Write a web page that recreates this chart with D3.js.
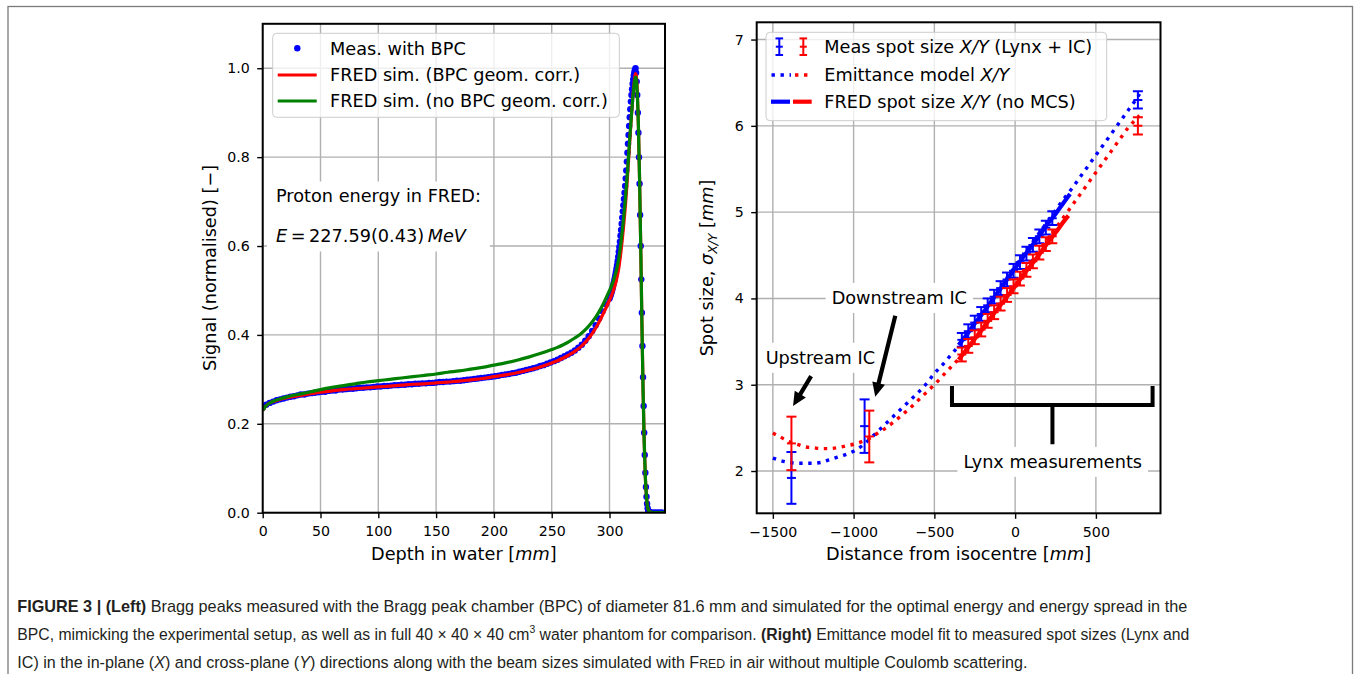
<!DOCTYPE html>
<html><head><meta charset="utf-8">
<script src="https://cdn.jsdelivr.net/npm/d3@7"></script>
<style>
html,body{margin:0;padding:0;background:#fff;}
svg{display:block;}
</style></head>
<body><svg id="fig" width="1354" height="674"></svg>
<script>
// ================= LEFT PANEL DATA (Bragg peak) =================
const bpcDepth = [0,3,6,9,12,15,18,21,24,27,30,33,36,39,42,45,48,51,54,57,60,63,66,69,72,75,78,81,84,87,90,93,96,99,102,105,108,111,114,117,120,123,126,129,132,135,138,141,144,147,150,153,156,159,162,165,168,171,174,177,180,183,186,189,192,195,198,201,204,207,210,213,216,219,222,225,228,231,234,237,240,243,246,249,252,255,258,261,264,267,270,273,276,279,282,285,288,291,294,297,
300,300.5,301,301.5,302,302.5,303,303.5,304,304.5,305,305.5,306,306.5,307,307.5,308,308.5,309,309.5,310,310.5,311,311.5,312,312.5,313,313.5,314,314.5,315,315.5,316,316.5,317,317.5,318,318.5,319,319.5,320,320.5,321,321.5,322,322.5,323,323.5,324,324.5,325,325.5,326,326.5,327,327.5,328,328.5,329,329.5,330,330.5,331,331.5,332,332.5,333,333.5,334,334.5,335,335.5,336,
337,338,339,340,341,342,343,344,345,346];
const bpcSignal = [0.236,0.243,0.247,0.250,0.253,0.255,0.257,0.259,0.261,0.262,
0.264,0.266,0.266,0.268,0.269,0.270,0.271,0.272,0.272,0.274,
0.275,0.275,0.277,0.277,0.278,0.279,0.279,0.280,0.281,0.281,
0.282,0.282,0.283,0.284,0.284,0.285,0.285,0.286,0.287,0.287,
0.288,0.288,0.289,0.289,0.290,0.290,0.291,0.291,0.292,0.292,
0.293,0.294,0.294,0.295,0.295,0.296,0.297,0.297,0.298,0.299,
0.300,0.301,0.302,0.303,0.304,0.305,0.306,0.307,0.308,0.310,
0.311,0.312,0.314,0.315,0.317,0.319,0.321,0.323,0.325,0.327,
0.330,0.332,0.335,0.338,0.341,0.344,0.348,0.352,0.356,0.360,
0.365,0.371,0.378,0.387,0.397,0.409,0.422,0.437,0.453,0.469,
0.482,0.486,0.490,0.494,0.498,0.503,0.509,0.515,0.521,0.527,
0.534,0.541,0.549,0.557,0.566,0.576,0.587,0.598,0.610,0.623,
0.636,0.650,0.664,0.678,0.692,0.706,0.720,0.735,0.752,0.770,
0.790,0.810,0.830,0.850,0.870,0.890,0.908,0.925,0.940,0.953,
0.965,0.975,0.984,0.991,0.996,1.000,0.990,0.970,0.940,0.900,
0.855,0.800,0.740,0.670,0.600,0.525,0.450,0.375,0.305,0.240,
0.180,0.130,0.090,0.058,0.036,0.020,0.010,0.005,0.002,0.001,
0.000,0.000,0.000,
0,0,0,0,0,0,0,0,0,0];

const simDepth = [0,2,5,10,15,20,30,40,50,60,70,80,90,100,110,120,130,140,150,160,170,180,190,200,210,220,230,240,250,255,260,265,270,275,280,285,290,295,300,302,304,306,308,310,312,314,315,316,317,318,319,320,321,322,322.5,323,324,325,326,327,328,329,330,331,332,333,334,336,340,348];
const simCorrSignal = [0.230,0.238,0.245,0.251,0.255,0.258,0.263,0.267,0.271,0.274,0.277,0.279,0.281,0.283,0.285,0.287,0.289,0.290,0.292,0.294,0.296,0.299,0.302,0.306,0.310,0.315,0.321,0.328,0.337,0.342,0.348,0.355,0.363,0.373,0.386,0.403,0.424,0.450,0.478,0.490,0.505,0.524,0.550,0.590,0.640,0.700,0.735,0.775,0.815,0.855,0.895,0.930,0.960,0.982,0.988,0.985,0.950,0.870,0.750,0.600,0.430,0.280,0.160,0.080,0.035,0.012,0.004,0.001,0,0];
const simNoCorrSignal = [0.230,0.238,0.245,0.252,0.256,0.260,0.266,0.271,0.277,0.282,0.286,0.290,0.294,0.297,0.300,0.303,0.306,0.309,0.312,0.316,0.319,0.323,0.327,0.332,0.337,0.343,0.350,0.358,0.367,0.372,0.378,0.385,0.393,0.402,0.414,0.429,0.448,0.472,0.500,0.512,0.527,0.546,0.572,0.610,0.658,0.715,0.748,0.785,0.823,0.860,0.895,0.928,0.955,0.975,0.980,0.978,0.945,0.870,0.750,0.600,0.430,0.280,0.160,0.080,0.035,0.012,0.004,0.001,0,0];

const leftXTicks = [0,50,100,150,200,250,300];
const leftYTicks = [0.0,0.2,0.4,0.6,0.8,1.0];
const leftLegend = ["Meas. with BPC","FRED sim. (BPC geom. corr.)","FRED sim. (no BPC geom. corr.)"];

// ================= RIGHT PANEL DATA (spot sizes) =================
const measDistX = [-1385,-932,-330,-290,-250,-210,-170,-130,-90,-50,-10,30,70,110,150,190,230,760];
const measSigX  = [1.92,2.52,3.52,3.62,3.72,3.82,3.92,4.02,4.12,4.22,4.32,4.42,4.52,4.62,4.72,4.82,4.93,6.30];
const measErrX  = [0.30,0.31,0.08,0.08,0.08,0.08,0.08,0.08,0.08,0.08,0.08,0.08,0.08,0.08,0.08,0.08,0.08,0.10];
const measDistY = [-1385,-903,-330,-290,-250,-210,-170,-130,-90,-50,-10,30,70,110,150,190,230,760];
const measSigY  = [2.32,2.40,3.35,3.45,3.55,3.64,3.74,3.84,3.94,4.04,4.14,4.23,4.33,4.43,4.53,4.63,4.72,6.00];
const measErrY  = [0.31,0.30,0.08,0.08,0.08,0.08,0.08,0.08,0.08,0.08,0.08,0.08,0.08,0.08,0.08,0.08,0.08,0.10];

const modelDist = [-1500,-1450,-1400,-1350,-1300,-1250,-1200,-1150,-1100,-1050,-1000,-950,-900,-850,-800,-750,-700,-650,-600,-550,-500,-450,-400,-350,-300,-250,-200,-150,-100,-50,0,50,100,150,200,250,300,350,400,450,500,550,600,650,700,750,770];
const modelSigX = [2.15,2.12,2.10,2.09,2.09,2.09,2.10,2.13,2.16,2.19,2.23,2.29,2.37,2.46,2.55,2.64,2.73,2.82,2.91,3.01,3.13,3.23,3.34,3.45,3.58,3.70,3.83,3.96,4.10,4.24,4.37,4.50,4.63,4.76,4.89,5.02,5.15,5.27,5.40,5.53,5.66,5.79,5.92,6.05,6.18,6.31,6.37];
const modelSigY = [2.44,2.39,2.34,2.31,2.28,2.27,2.26,2.26,2.27,2.29,2.31,2.34,2.38,2.44,2.50,2.57,2.65,2.73,2.82,2.91,3.00,3.10,3.20,3.30,3.42,3.54,3.66,3.78,3.91,4.04,4.16,4.29,4.42,4.55,4.68,4.81,4.94,5.07,5.20,5.33,5.46,5.59,5.72,5.85,5.98,6.08,6.12];

const fredDistX = [-350,-300,-250,-200,-150,-100,-50,0,50,100,150,200,250,300,340];
const fredSigX  = [3.46,3.58,3.71,3.83,3.96,4.09,4.22,4.35,4.48,4.60,4.73,4.86,4.98,5.11,5.21];
const fredDistY = [-350,-300,-250,-200,-150,-100,-50,0,50,100,150,200,250,300,330];
const fredSigY  = [3.29,3.41,3.53,3.65,3.78,3.90,4.02,4.14,4.27,4.39,4.51,4.64,4.76,4.89,4.96];

const rightXTicks = [-1500,-1000,-500,0,500];
const rightYTicks = [2,3,4,5,6,7];

// annotations in data units
const textNotes = [
  {text:"Downstream IC", x:-717, y:4.01},
  {text:"Upstream IC", x:-1206, y:3.317},
  {text:"Lynx measurements", x:233, y:2.11}
];
const arrowNotes = [
  {x1:-1263, y1:3.10, x2:-1375, y2:2.753},
  {x1:-742, y1:3.80, x2:-866, y2:2.861}
];
const bracket = {xa:-391, xb:851, yBar:2.765, yEnd:2.985, xStem:231, yStem:2.31};

// ================= DRAWING =================
const svg = d3.select('#fig');
const DJ = '"DejaVu Sans", sans-serif';
const TICK = 14.2, LAB = 17.7;

svg.append('rect').attr('x',8).attr('y',6.5).attr('width',1344.5).attr('height',720)
  .attr('fill','none').attr('stroke','#7a7a7a').attr('stroke-width',1.3);

function setupPanel(id, xs, ys, xTicks, yTicks, xFmt, yFmt) {
  const [xa,xb] = xs.range(), [ya,yb] = ys.range();
  const g = svg.append('g');
  const grid = g.append('g').attr('stroke','#b0b0b0').attr('stroke-width',1.4);
  grid.selectAll('.gx').data(xTicks).join('line').attr('x1',d=>xs(d)).attr('x2',d=>xs(d)).attr('y1',ya).attr('y2',yb);
  grid.selectAll('.gy').data(yTicks).join('line').attr('y1',d=>ys(d)).attr('y2',d=>ys(d)).attr('x1',xa).attr('x2',xb);
  svg.append('clipPath').attr('id',id).append('rect').attr('x',xa).attr('y',yb).attr('width',xb-xa).attr('height',ya-yb);
  const notes = g.append('g');
  const data = g.append('g').attr('clip-path',`url(#${id})`);
  const over = svg.append('g');
  const ax = over.append('g').attr('transform',`translate(0,${ya})`)
    .call(d3.axisBottom(xs).tickValues(xTicks).tickFormat(xFmt).tickSize(5.5).tickPadding(8.2));
  const ay = over.append('g').attr('transform',`translate(${xa},0)`)
    .call(d3.axisLeft(ys).tickValues(yTicks).tickFormat(yFmt).tickSize(5.5).tickPadding(7.3));
  [ax,ay].forEach(a=>{
    a.attr('font-size',null).attr('font-family',null);
    a.select('.domain').remove();
    a.selectAll('line').attr('stroke','#000').attr('stroke-width',1.4);
    a.selectAll('text').attr('font-family',DJ).attr('font-size',TICK).attr('fill','#000');
  });
  over.append('rect').attr('x',xa).attr('y',yb).attr('width',xb-xa).attr('height',ya-yb)
    .attr('fill','none').attr('stroke','#000').attr('stroke-width',2);
  return {g, notes, data, over};
}

// ---------- LEFT ----------
const xL = d3.scaleLinear().domain([0,348]).range([262.7,665]);
const yL = d3.scaleLinear().domain([0,1.1]).range([512.7,23.8]);
const PL = setupPanel('clipL', xL, yL, leftXTicks, leftYTicks, d3.format('d'), d3.format('.1f'));

const noteG = PL.notes;
const t1 = noteG.append('text').attr('x',276).attr('y',201.5).attr('font-family',DJ).attr('font-size',LAB).text('Proton energy in FRED:');
const t2 = noteG.append('text').attr('x',276).attr('y',241.5).attr('font-family',DJ).attr('font-size',LAB);
t2.append('tspan').attr('font-style','italic').text('E');
t2.append('tspan').text('\u2009=\u2009227.59(0.43)\u2009');
t2.append('tspan').attr('font-style','italic').text('MeV');
{
  const b1 = t1.node().getBBox(), b2 = t2.node().getBBox();
  const x0 = Math.min(b1.x,b2.x)-9, x1 = Math.max(b1.x+b1.width,b2.x+b2.width)+9;
  noteG.insert('rect','text').attr('x',x0).attr('y',b1.y-4).attr('width',x1-x0).attr('height',(b2.y+b2.height+6)-(b1.y-4)).attr('fill','#fff');
}

const bpc = bpcDepth.map((d,i)=>[d,bpcSignal[i]]);
PL.data.selectAll('circle').data(bpc).join('circle')
  .attr('cx',d=>xL(d[0])).attr('cy',d=>yL(d[1])).attr('r',3.2).attr('fill','#0000ff');
const lineL = d3.line().x(d=>xL(d[0])).y(d=>yL(d[1])).curve(d3.curveMonotoneX);
PL.data.append('path').datum(simDepth.map((d,i)=>[d,simCorrSignal[i]])).attr('d',lineL)
  .attr('fill','none').attr('stroke','#ff0000').attr('stroke-width',3.2);
PL.data.append('path').datum(simDepth.map((d,i)=>[d,simNoCorrSignal[i]])).attr('d',lineL)
  .attr('fill','none').attr('stroke','#008000').attr('stroke-width',3.2);

svg.append('text').attr('x',463.8).attr('y',560).attr('text-anchor','middle').attr('font-family',DJ).attr('font-size',LAB)
  .call(t=>{t.append('tspan').text('Depth in water ['); t.append('tspan').attr('font-style','italic').text('mm'); t.append('tspan').text(']');});
svg.append('text').attr('transform','translate(216,268) rotate(-90)').attr('text-anchor','middle').attr('font-family',DJ).attr('font-size',LAB)
  .text('Signal (normalised) [\u2212]');

{
  const lg = svg.append('g');
  lg.append('rect').attr('x',272.7).attr('y',33.3).attr('width',346.6).attr('height',84).attr('rx',4)
    .attr('fill','#fff').attr('fill-opacity',0.8).attr('stroke','#cccccc').attr('stroke-width',1);
  const rows = [48.3,75,101];
  lg.append('circle').attr('cx',297.3).attr('cy',rows[0]).attr('r',3.2).attr('fill','#0000ff');
  lg.append('line').attr('x1',277.7).attr('x2',316.7).attr('y1',rows[1]).attr('y2',rows[1]).attr('stroke','#ff0000').attr('stroke-width',3.2);
  lg.append('line').attr('x1',277.7).attr('x2',316.7).attr('y1',rows[2]).attr('y2',rows[2]).attr('stroke','#008000').attr('stroke-width',3.2);
  leftLegend.forEach((s,i)=>lg.append('text').attr('x',330).attr('y',rows[i]+6.4).attr('font-family',DJ).attr('font-size',LAB).text(s));
}

// ---------- RIGHT ----------
const xR = d3.scaleLinear().domain([-1600,900]).range([756.7,1160.5]);
const yR = d3.scaleLinear().domain([1.51,7.2]).range([513.3,22.3]);
const PR = setupPanel('clipR', xR, yR, rightXTicks, rightYTicks, d3.format('d'), d3.format('d'));

const lineR = d3.line().x(d=>xR(d[0])).y(d=>yR(d[1])).curve(d3.curveMonotoneX);
textNotes.forEach(n=>{
  const t = PR.notes.append('text').attr('x',xR(n.x)).attr('y',yR(n.y)).attr('dy','0.36em').attr('text-anchor','middle')
    .attr('font-family',DJ).attr('font-size',LAB).text(n.text);
  const b = t.node().getBBox();
  PR.notes.insert('rect','text').attr('x',b.x-6).attr('y',b.y-5).attr('width',b.width+12).attr('height',b.height+10).attr('fill','#fff');
});

PR.data.append('path').datum(modelDist.map((d,i)=>[d,modelSigX[i]])).attr('d',lineR)
  .attr('fill','none').attr('stroke','#0000ff').attr('stroke-width',3.4).attr('stroke-dasharray','3.4 5.6');
PR.data.append('path').datum(modelDist.map((d,i)=>[d,modelSigY[i]])).attr('d',lineR)
  .attr('fill','none').attr('stroke','#ff0000').attr('stroke-width',3.4).attr('stroke-dasharray','3.4 5.6');
PR.data.append('path').datum(fredDistX.map((d,i)=>[d,fredSigX[i]])).attr('d',lineR)
  .attr('fill','none').attr('stroke','#0000ff').attr('stroke-width',4.2);
PR.data.append('path').datum(fredDistY.map((d,i)=>[d,fredSigY[i]])).attr('d',lineR)
  .attr('fill','none').attr('stroke','#ff0000').attr('stroke-width',4.2);

function errorbars(dist, sig, err, color) {
  const g = PR.data.append('g').attr('stroke',color).attr('stroke-width',2);
  dist.forEach((d,i)=>{
    const x = xR(d), yt = yR(sig[i]+err[i]), yb = yR(sig[i]-err[i]), yc = yR(sig[i]);
    g.append('line').attr('x1',x).attr('x2',x).attr('y1',yt).attr('y2',yb);
    g.append('line').attr('x1',x-5).attr('x2',x+5).attr('y1',yt).attr('y2',yt);
    g.append('line').attr('x1',x-5).attr('x2',x+5).attr('y1',yb).attr('y2',yb);
    g.append('line').attr('x1',x-4.5).attr('x2',x+4.5).attr('y1',yc).attr('y2',yc);
  });
}
errorbars(measDistX, measSigX, measErrX, '#0000ff');
errorbars(measDistY, measSigY, measErrY, '#ff0000');

arrowNotes.forEach(a=>{
  const x1=xR(a.x1), y1=yR(a.y1), x2=xR(a.x2), y2=yR(a.y2);
  const dx=x2-x1, dy=y2-y1, L=Math.hypot(dx,dy), ux=dx/L, uy=dy/L, px=-uy, py=ux;
  const hl=14, hw=6.5, sw=2.1;
  const bx=x2-ux*hl, by=y2-uy*hl;
  const pts=[[x1+px*sw,y1+py*sw],[bx+px*sw,by+py*sw],[bx+px*hw,by+py*hw],[x2,y2],[bx-px*hw,by-py*hw],[bx-px*sw,by-py*sw],[x1-px*sw,y1-py*sw]];
  PR.over.append('path').attr('d','M'+pts.map(p=>p.join(',')).join('L')+'Z').attr('fill','#000');
});
PR.over.append('path').attr('d',`M${xR(bracket.xa)},${yR(bracket.yEnd)}L${xR(bracket.xa)},${yR(bracket.yBar)}L${xR(bracket.xb)},${yR(bracket.yBar)}L${xR(bracket.xb)},${yR(bracket.yEnd)}M${xR(bracket.xStem)},${yR(bracket.yBar)}L${xR(bracket.xStem)},${yR(bracket.yStem)}`)
  .attr('fill','none').attr('stroke','#000').attr('stroke-width',4);

svg.append('text').attr('x',958.6).attr('y',560).attr('text-anchor','middle').attr('font-family',DJ).attr('font-size',LAB)
  .call(t=>{t.append('tspan').text('Distance from isocentre ['); t.append('tspan').attr('font-style','italic').text('mm'); t.append('tspan').text(']');});
svg.append('text').attr('transform','translate(713,268) rotate(-90)').attr('text-anchor','middle').attr('font-family',DJ).attr('font-size',LAB)
  .call(t=>{
    t.append('tspan').text('Spot size, ');
    t.append('tspan').attr('font-style','italic').text('\u03C3');
    t.append('tspan').attr('font-style','italic').attr('font-size',LAB*0.7).attr('dy',4).text('X/Y');
    t.append('tspan').attr('dy',-4).text(' [');
    t.append('tspan').attr('font-style','italic').text('mm');
    t.append('tspan').text(']');
  });

{
  const lg = svg.append('g');
  lg.append('rect').attr('x',766).attr('y',32.3).attr('width',340.7).attr('height',88.4).attr('rx',4)
    .attr('fill','#fff').attr('fill-opacity',0.8).attr('stroke','#cccccc').attr('stroke-width',1);
  const rows=[46.7,75,101.7];
  [[779.3,'#0000ff'],[803.3,'#ff0000']].forEach(([x,c])=>{
    const e=lg.append('g').attr('stroke',c).attr('stroke-width',2);
    e.append('line').attr('x1',x).attr('x2',x).attr('y1',rows[0]-8.3).attr('y2',rows[0]+8.3);
    e.append('line').attr('x1',x-3.8).attr('x2',x+3.8).attr('y1',rows[0]-8.3).attr('y2',rows[0]-8.3);
    e.append('line').attr('x1',x-3.8).attr('x2',x+3.8).attr('y1',rows[0]+8.3).attr('y2',rows[0]+8.3);
    e.append('line').attr('x1',x-3.5).attr('x2',x+3.5).attr('y1',rows[0]).attr('y2',rows[0]);
  });
  lg.append('line').attr('x1',771.5).attr('x2',791).attr('y1',rows[1]).attr('y2',rows[1]).attr('stroke','#0000ff').attr('stroke-width',3.4).attr('stroke-dasharray','3.4 5.6');
  lg.append('line').attr('x1',795).attr('x2',811.7).attr('y1',rows[1]).attr('y2',rows[1]).attr('stroke','#ff0000').attr('stroke-width',3.4).attr('stroke-dasharray','3.4 5.6');
  lg.append('line').attr('x1',771).attr('x2',790).attr('y1',rows[2]).attr('y2',rows[2]).attr('stroke','#0000ff').attr('stroke-width',4.2);
  lg.append('line').attr('x1',793).attr('x2',811.7).attr('y1',rows[2]).attr('y2',rows[2]).attr('stroke','#ff0000').attr('stroke-width',4.2);
  const labels=[['Meas spot size ','X/Y',' (Lynx + IC)'],['Emittance model ','X/Y',''],['FRED spot size ','X/Y',' (no MCS)']];
  labels.forEach((p,i)=>{
    const t=lg.append('text').attr('x',824.3).attr('y',rows[i]+6.4).attr('font-family',DJ).attr('font-size',LAB);
    t.append('tspan').text(p[0]); t.append('tspan').attr('font-style','italic').text(p[1]); t.append('tspan').text(p[2]);
  });
}

// ---------- CAPTION (one text per line, horizontally condensed with a transform) ----------
const CAP = '"Liberation Sans Narrow","Arial Narrow","Liberation Sans",sans-serif';
const CAPFS = 16.6;
const capLines = [
  {y:611.6, len:1170.7, parts:[['FIGURE 3 | (Left)','b'],[' Bragg peaks measured with the Bragg peak chamber (BPC) of diameter 81.6 mm and simulated for the optimal energy and energy spread in the','']]},
  {y:639.8, len:1172.7, parts:[['BPC, mimicking the experimental setup, as well as in full 40 \u00D7 40 \u00D7 40 cm',''],['3','sup'],[' water phantom for comparison. ',''],['(Right)','b'],[' Emittance model fit to measured spot sizes (Lynx and','']]},
  {y:667.6, len:1010.7, parts:[['IC) in the in-plane (',''],['X','i'],[') and cross-plane (',''],['Y','i'],[') directions along with the beam sizes simulated with F',''],['RED','sc'],[' in air without multiple Coulomb scattering.','']]}
];
const capG = svg.append('g').attr('fill','#231f20').attr('font-family',CAP);
capLines.forEach(l=>{
  const t = capG.append('text').attr('x',0).attr('y',0).attr('font-size',CAPFS).style('white-space','pre');
  let raised = false;
  l.parts.forEach(([s,k])=>{
    const sp = t.append('tspan').text(s);
    if(k==='b') sp.attr('font-weight','bold');
    if(k==='i') sp.attr('font-style','italic');
    if(k==='sc') sp.attr('font-size',12.6);
    if(k==='sup'){ sp.attr('font-size',11).attr('dy',-6.5); raised = true; }
    else if(raised){ sp.attr('dy',6.5); raised = false; }
  });
  const w = t.node().getComputedTextLength();
  t.attr('transform',`translate(17.3,${l.y}) scale(${l.len/w},1)`);
});
</script></body></html>
